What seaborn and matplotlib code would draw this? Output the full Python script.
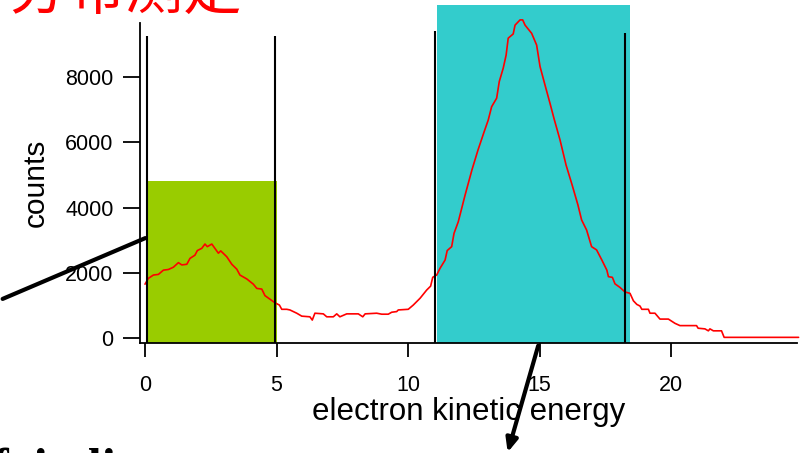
import matplotlib
matplotlib.use("Agg")
import matplotlib.pyplot as plt
import matplotlib.patches as mpatches
import seaborn as sns

# red spectrum
energy = [0.00, 0.13, 0.32, 0.51, 0.70, 0.89, 1.08, 1.27, 1.40, 1.59, 1.71, 1.90, 1.99, 2.16,
          2.28, 2.37, 2.54, 2.79, 2.88, 3.11, 3.30, 3.49, 3.61, 3.87, 4.12, 4.25, 4.44, 4.56,
          4.75, 4.94, 5.11, 5.20, 5.39, 5.51, 5.77, 5.96, 6.27, 6.36, 6.46, 6.78, 6.91, 7.16,
          7.29, 7.41, 7.67, 8.11, 8.28, 8.37, 8.81, 9.00, 9.25, 9.38, 9.57, 9.63, 10.01, 10.20,
          10.46, 10.71, 10.86, 10.94, 11.09, 11.22, 11.41, 11.49, 11.66, 11.75, 11.91, 12.17,
          12.43, 12.66, 12.89, 13.05, 13.18, 13.37, 13.47, 13.62, 13.73, 13.81, 14.00, 14.07,
          14.26, 14.36, 14.45, 14.70, 14.89, 15.02, 15.21, 15.40, 15.55, 15.78, 16.01, 16.24,
          16.46, 16.60, 16.79, 16.98, 17.17, 17.37, 17.56, 17.62, 17.77, 17.87, 18.06, 18.25,
          18.44, 18.57, 18.70, 18.82, 18.89, 19.14, 19.20, 19.39, 19.58, 19.90, 20.15, 20.34,
          20.97, 21.03, 21.29, 21.42, 21.48, 21.61, 21.92, 22.02, 24.85]
counts = [1650, 1830, 1930, 1950, 2080, 2100, 2170, 2310, 2240, 2260, 2440, 2540, 2680, 2750,
          2880, 2800, 2880, 2600, 2670, 2490, 2260, 2110, 1930, 1810, 1650, 1520, 1500, 1300,
          1190, 1080, 1010, 880, 880, 860, 760, 670, 650, 550, 760, 740, 650, 650,
          740, 650, 740, 740, 650, 740, 760, 730, 730, 790, 810, 860, 880, 1010,
          1220, 1470, 1590, 1860, 1930, 2140, 2390, 2680, 2800, 3210, 3560, 4380,
          5150, 5760, 6310, 6680, 7090, 7350, 7860, 8270, 8670, 9190, 9320, 9590,
          9750, 9750, 9590, 9340, 8980, 8320, 7750, 7190, 6730, 6070, 5300, 4690,
          4080, 3620, 3310, 2800, 2700, 2390, 2080, 1880, 1860, 1660, 1550, 1410,
          1370, 1140, 1030, 980, 880, 880, 760, 760, 580, 580, 450, 380,
          380, 300, 280, 220, 280, 220, 220, 20, 20]

# gate windows (energy from, energy to, height) and marker lines
green_window = (0.11, 5.02, 4816)
cyan_window = (11.10, 18.44, 10206)
marker_lines = [0.08, 4.94, 11.03, 18.25]
marker_tops = [9256, 9256, 9410, 9349]

x_ticks = [0, 5, 10, 15, 20]
y_ticks = [0, 2000, 4000, 6000, 8000]

sns.set_style("ticks")
plt.rcParams["font.family"] = ["Liberation Sans", "DejaVu Sans"]
plt.rcParams["text.color"] = "black"
plt.rcParams["axes.labelcolor"] = "black"
plt.rcParams["xtick.color"] = "black"
plt.rcParams["ytick.color"] = "black"

W, H = 804, 453
fig = plt.figure(figsize=(W / 100, H / 100), dpi=100)
ax = fig.add_axes([140 / W, 1 - 343 / H, 657 / W, 320 / H])

ax.add_patch(mpatches.Rectangle((green_window[0], -150), green_window[1] - green_window[0],
                                green_window[2] + 150, facecolor="#99CC00", edgecolor="none",
                                zorder=1))
ax.add_patch(mpatches.Rectangle((cyan_window[0], -150), cyan_window[1] - cyan_window[0],
                                cyan_window[2] + 150, facecolor="#33CCCC", edgecolor="none",
                                zorder=1, clip_on=False))

sns.lineplot(x=energy, y=counts, color="red", lw=1.2, estimator=None, sort=False,
             ax=ax, zorder=3, clip_on=False)

for xe, top in zip(marker_lines, marker_tops):
    ax.vlines(xe, -150, top, color="black", lw=1.5, zorder=4, clip_on=False)

ax.set_xlim(-0.19, 24.79)
ax.set_ylim(-153, 9655)
ax.set_xticks(x_ticks)
ax.set_yticks(y_ticks)
ax.tick_params(axis="x", direction="out", length=10, width=1.3, pad=13, labelsize=15.5)
ax.tick_params(axis="y", direction="out", length=12, width=1.3, pad=7, labelsize=15.5)
for s in ["top", "right"]:
    ax.spines[s].set_visible(False)
for s in ["left", "bottom"]:
    ax.spines[s].set_linewidth(1.3)
    ax.spines[s].set_color("black")

ax.set_xlabel("electron kinetic energy", fontsize=22.5, labelpad=1)
ax.set_ylabel("counts", fontsize=21.5, labelpad=11)

# slide annotations
ax.annotate("", xy=(0.11, 3096), xytext=(-5.51, 1165),
            arrowprops=dict(arrowstyle="-", lw=3, color="black"),
            annotation_clip=False, zorder=5)
ax.annotate("", xy=(13.76, -3586), xytext=(14.98, -153),
            arrowprops=dict(arrowstyle="-|>,head_length=0.8,head_width=0.35", lw=3,
                            color="black"),
            annotation_clip=False, zorder=5)

# slide text cut by the screenshot edges
fig.text(242 / W, 1 - 9 / H, "分布测定", color="red", fontsize=42,
         ha="right", va="baseline", family=["Noto Sans CJK SC", "DejaVu Sans"])
fig.text(-8 / W, 1 - 483 / H, "fain li", color="black", fontsize=36, fontweight="bold",
         ha="left", va="baseline", family=["Liberation Serif", "DejaVu Serif"])

fig.savefig("out.png", dpi=100)
